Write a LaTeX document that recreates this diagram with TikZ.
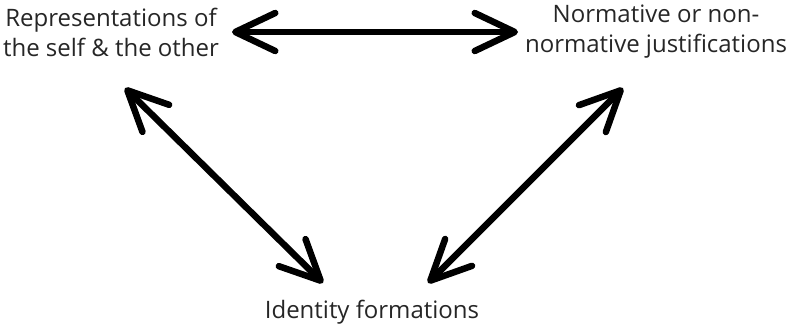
\documentclass[tikz,border=0pt]{standalone}
\usepackage{fontspec}
\setmainfont{Open Sans}
\usetikzlibrary{arrows.meta}
\definecolor{labelGray}{HTML}{262626}

\tikzset{
  label text/.style={align=center,inner sep=0pt,text=labelGray,font=\fontsize{24}{30}\selectfont},
  twoway/.style={line width=6.5pt,line cap=round,
    {Straight Barb[round,length=40pt,width=38pt]}-{Straight Barb[round,length=40pt,width=38pt]}}
}

\begin{document}
\begin{tikzpicture}[x=1pt,y=-1pt]
  \useasboundingbox (0,0) rectangle (790,329);

  % the three ideas
  \node[label text] (rep) at (111,32) {Representations of\\the self \& the other};
  \node[label text] (norm) at (656,32) {Normative or non-\\normative justifications};
  \node[label text] (ident) at (372,312) {Identity formations};

  % two-way links
  \draw[twoway] ([shift={(121,0)}]rep.center) -- ([shift={(-138,0)}]norm.center);
  \draw[twoway] ([shift={(14,56)}]rep.center) -- ([shift={(-49,-29)}]ident.center);
  \draw[twoway] ([shift={(-33,56)}]norm.center) -- ([shift={(56,-29)}]ident.center);
\end{tikzpicture}
\end{document}
